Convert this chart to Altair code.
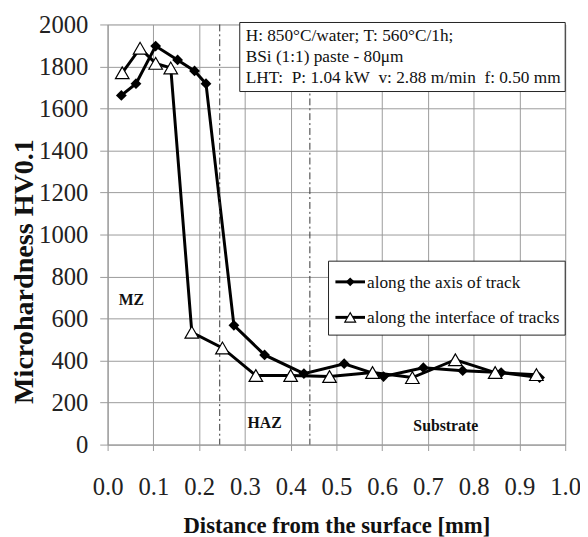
import altair as alt
import pandas as pd

# along the axis of track (filled diamonds)
axis_x = [0.03, 0.062, 0.105, 0.153, 0.19, 0.215, 0.276, 0.343, 0.429, 0.517, 0.603, 0.690, 0.776, 0.860, 0.944]
axis_y = [1662, 1718, 1897, 1831, 1779, 1718, 568, 427, 338, 385, 324, 366, 352, 343, 319]

# along the interface of tracks (open triangles)
intf_x = [0.032, 0.071, 0.105, 0.138, 0.184, 0.251, 0.324, 0.40, 0.485, 0.579, 0.666, 0.760, 0.847, 0.937]
intf_y = [1770, 1887, 1815, 1793, 535, 460, 329, 329, 324, 343, 319, 404, 343, 333]

zone_lines = [0.245, 0.442]
zone_labels = ["MZ", "HAZ", "Substrate"]
zone_lx = [0.052, 0.343, 0.739]
zone_ly = [690, 103, 89]

NB = "\u00a0"
info_lines = [
    "H: 850°C/water; T: 560°C/1h;",
    "BSi (1:1) paste - 80μm",
    f"LHT:{NB}{NB}P: 1.04 kW{NB}{NB}v: 2.88 m/min{NB}{NB}f: 0.50 mm",
]
legend_names = ["along the axis of track", "along the interface of tracks"]
x_ticks = [round(i / 10, 1) for i in range(11)]
y_ticks = list(range(0, 2001, 200))

FONT = "Liberation Serif"
W, H = 464, 426

df_a = pd.DataFrame({"x": axis_x, "y": axis_y})
df_i = pd.DataFrame({"x": intf_x, "y": intf_y})

xs = alt.Scale(domain=[0, 1], nice=False)
ys = alt.Scale(domain=[0, 2000], nice=False)

xax = alt.Axis(title="Distance from the surface [mm]", values=x_ticks, format=".1f", labelPadding=25,
               labelFlush=False, labelOverlap=False, labelFont=FONT, labelFontSize=25,
               titleFont=FONT, titleFontSize=23, titlePadding=15, tickSize=6)
yax = alt.Axis(title="Microhardness HV0.1", values=y_ticks, format="d", labelPadding=12,
               labelFlush=False, labelOverlap=False, labelFont=FONT, labelFontSize=25,
               titleFont=FONT, titleFontSize=28.5, titleX=-85, titleY=250, titleAngle=-90, titleAlign="center",
               titleBaseline="middle", tickSize=8)

X = alt.X("x:Q", scale=xs, axis=xax)
Y = alt.Y("y:Q", scale=ys, axis=yax)

base_a = alt.Chart(df_a)
base_i = alt.Chart(df_i)

line_a = base_a.mark_line(color="black", strokeWidth=3).encode(x=X, y=Y)
line_i = base_i.mark_line(color="black", strokeWidth=3).encode(x=X, y=Y)
pts_i = base_i.mark_point(shape="triangle-up", filled=True, fill="white", stroke="black", strokeWidth=1.2,
                          size=190, opacity=1).encode(x=X, y=Y)
pts_a = base_a.mark_point(shape="diamond", filled=True, color="black", size=120, opacity=1).encode(x=X, y=Y)

rules = alt.Chart(pd.DataFrame({"x": zone_lines})).mark_rule(
    color="#333", strokeWidth=1, strokeDash=[7, 3, 2, 3]).encode(x=X)

zl = alt.Chart(pd.DataFrame({"t": zone_labels, "x": zone_lx, "y": zone_ly})).mark_text(
    font=FONT, fontSize=16, fontWeight="bold", color="#111").encode(x=X, y=Y, text="t:N")

one = pd.DataFrame({"a": [0]})

# info box
info_box = alt.Chart(one).mark_rect(fill="white", stroke="#222", strokeWidth=1).encode(
    x=alt.value(134), x2=alt.value(464), y=alt.value(-2), y2=alt.value(68))
info_layers = [alt.Chart(pd.DataFrame({"t": [s]})).mark_text(
    font=FONT, fontSize=17.5, color="#111", align="left", baseline="middle").encode(
    x=alt.value(140), y=alt.value(yy), text="t:N") for s, yy in zip(info_lines, [12, 33, 54])]

# legend
leg_box = alt.Chart(one).mark_rect(fill="white", stroke="#222", strokeWidth=1).encode(
    x=alt.value(224), x2=alt.value(464), y=alt.value(240), y2=alt.value(315))
leg_l1 = alt.Chart(one).mark_rule(color="black", strokeWidth=3).encode(
    x=alt.value(231), x2=alt.value(261), y=alt.value(261))
leg_l2 = alt.Chart(one).mark_rule(color="black", strokeWidth=3).encode(
    x=alt.value(231), x2=alt.value(261), y=alt.value(297))
leg_p1 = alt.Chart(one).mark_point(shape="diamond", filled=True, color="black", size=80, opacity=1).encode(
    x=alt.value(246), y=alt.value(261))
leg_p2 = alt.Chart(one).mark_point(shape="triangle-up", filled=True, fill="white", stroke="black",
                                   strokeWidth=1.2, size=120, opacity=1).encode(
    x=alt.value(246), y=alt.value(297))
leg_texts = [alt.Chart(pd.DataFrame({"t": [s]})).mark_text(
    font=FONT, fontSize=17.5, color="#111", align="left", baseline="middle").encode(
    x=alt.value(263), y=alt.value(yy), text="t:N") for s, yy in zip(legend_names, [262, 298])]

chart = alt.layer(
    line_a, rules, zl, line_i, pts_a, pts_i, info_box, *info_layers,
    leg_box, leg_l1, leg_l2, leg_p1, leg_p2, *leg_texts,
).properties(
    width=W, height=H,
    padding={"left": 101, "top": 13, "right": 15, "bottom": 90},
    autosize=alt.AutoSizeParams(type="none"),
).configure_view(stroke=None).configure(background="white").configure_axis(
    labelFont=FONT, labelFontSize=25, labelColor="#222",
    titleFont=FONT, titleFontWeight="bold", titleColor="#111",
    grid=True, gridColor="#9a9a9a", domainColor="#9a9a9a", tickColor="#9a9a9a",
)

chart.save("out.html", embed_options={"renderer": "svg", "actions": False})
